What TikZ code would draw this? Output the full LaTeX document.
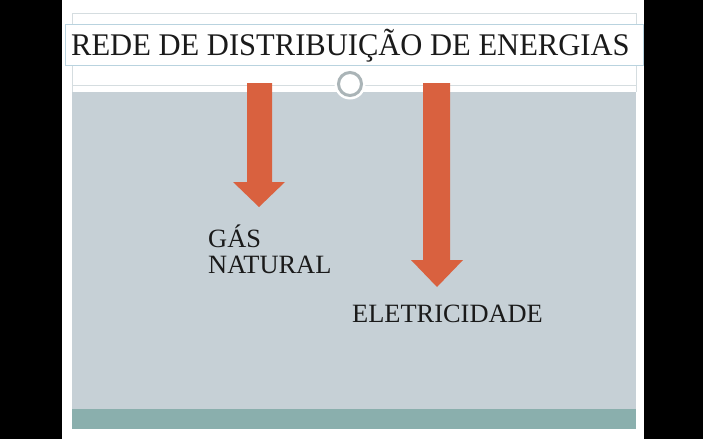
\documentclass[tikz,border=0pt]{standalone}
\usepackage{fontspec}
\setmainfont{Liberation Serif}
\usepackage{xcolor}
\usepackage{tikz}
\usetikzlibrary{positioning}
\definecolor{SlBlack}  {HTML}{000000}
\definecolor{SlPanel}  {HTML}{C6D0D6}
\definecolor{SlTeal}   {HTML}{8AAFAD}
\definecolor{SlArrow}  {HTML}{D9613F}
\definecolor{SlRing}   {HTML}{AAB4B7}
\definecolor{SlFrame}  {HTML}{D5DDE0}
\definecolor{SlTitleBd}{HTML}{B9D3DF}
\definecolor{SlText}   {HTML}{1A1A1A}

\begin{document}
\begin{tikzpicture}[x=1pt,y=-1pt]
    % Background and slide
    \fill[SlBlack](0,0) rectangle (703,439);
    \useasboundingbox (0,0) rectangle (703,439);
    \fill[white](62,0) rectangle (644,439);
    \draw[SlFrame,thin](72,92)--(72,13)--(636,13)--(636,92);
    \draw[SlFrame,thin](72,85)--(636,85);
    \fill[SlPanel](72,92) rectangle (636,409);
    \fill[SlTeal](72,409) rectangle (636,429);
    % Title
    \filldraw[fill=white,draw=SlTitleBd,thin](65,24) rectangle (643,65);
    \node[font=\fontsize{31.5}{34}\selectfont,text=SlText,anchor=base west,inner sep=0pt,xscale=0.97] (title) at (71,55) {REDE DE DISTRIBUIÇÃO DE ENERGIAS};
    % Ring on the divider
    \fill[white](350,84) circle (15.5);
    \draw[SlRing,line width=3pt](350,84) circle (11.5);
    % Block arrows
    \foreach \xl/\xr/\hl/\hr/\yh/\yt in {
      247/272/233/285/182/207,
      423/450/411/463/260/287%
    }{
      \pgfmathsetmacro{\xm}{(\hl+\hr)/2}
      \fill[SlArrow](\xl,83) -- (\xr,83) -- (\xr,\yh) -- (\hr,\yh) -- (\xm,\yt) -- (\hl,\yh) -- (\xl,\yh) -- cycle;
    }
    % Labels
    \node[font=\fontsize{26.4}{28}\selectfont,text=SlText,anchor=base west,inner sep=0pt] (gas) at (208,247) {GÁS};
    \node[font=\fontsize{26.4}{28}\selectfont,text=SlText,anchor=base west,inner sep=0pt] (natural) at (208,273) {NATURAL};
    \node[font=\fontsize{26.4}{28}\selectfont,text=SlText,anchor=base west,inner sep=0pt] (eletric) at (352,322) {ELETRICIDADE};
  \end{tikzpicture}
\end{document}
